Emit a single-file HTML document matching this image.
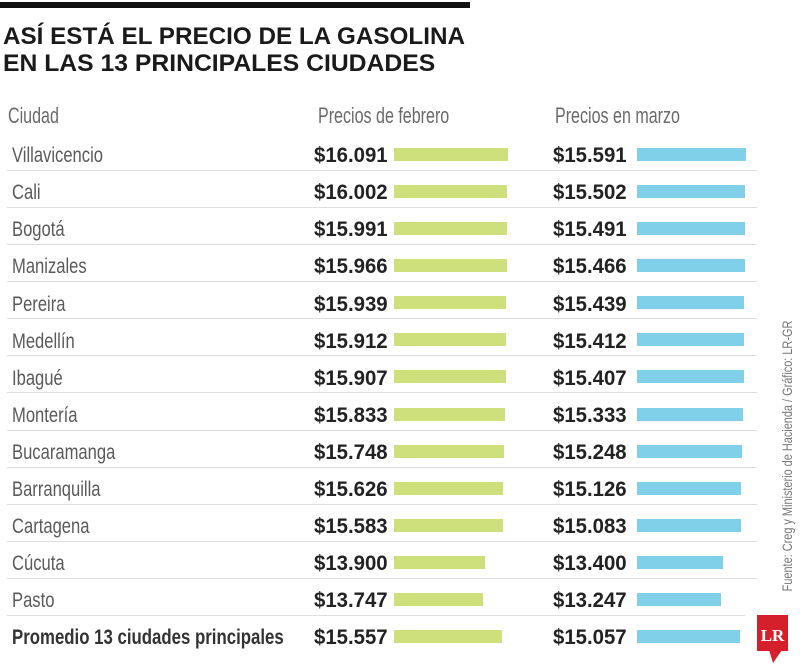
<!DOCTYPE html>
<html>
<head>
<meta charset="utf-8">
<style>
  html,body{margin:0;padding:0;background:#fff;}
  body{width:800px;height:666px;position:relative;overflow:hidden;font-family:"Liberation Sans",sans-serif;}
  .a{position:absolute;white-space:nowrap;line-height:1;transform-origin:0 50%;}
  .title{font-weight:bold;font-size:24px;color:#1a1a1a;}
  .hdr{font-size:22px;color:#6a6a6a;transform:scaleX(0.73);}
  .row{position:absolute;left:0;width:800px;height:30px;}
  .city{position:absolute;left:12px;top:-2.8px;font-size:21px;line-height:1;color:#5a5a5a;white-space:nowrap;transform:scaleX(0.79);transform-origin:0 50%;}
  .city.b{font-weight:bold;color:#333;transform:scaleX(0.80);}
  .p{position:absolute;top:-2.8px;font-size:21px;line-height:1;font-weight:bold;color:#222;white-space:nowrap;transform:scaleX(0.97);transform-origin:0 50%;}
  .p1{left:314px;}
  .p2{left:553px;}
  .g{position:absolute;left:394px;top:0;height:13px;background:#cde07c;}
  .bl{position:absolute;left:637px;top:0;height:13px;background:#80d0ea;}
  .ln{position:absolute;left:7px;top:22px;width:750px;height:1px;background:#dedede;}
</style>
</head>
<body>
<div style="position:absolute;left:0;top:2px;width:470px;height:6px;background:#111;"></div>
<div class="a title" style="left:3px;top:24.7px;transform:scaleX(1.01);">ASÍ ESTÁ EL PRECIO DE LA GASOLINA</div>
<div class="a title" style="left:3px;top:51.7px;transform:scaleX(1.03);">EN LAS 13 PRINCIPALES CIUDADES</div>

<div class="a hdr" style="left:8px;top:105.4px;">Ciudad</div>
<div class="a hdr" style="left:318px;top:105.4px;">Precios de febrero</div>
<div class="a hdr" style="left:555px;top:105.4px;">Precios en marzo</div>

<div class="row" style="top:148px;"><div class="city">Villavicencio</div><div class="p p1">$16.091</div><div class="g" style="width:114px"></div><div class="p p2">$15.591</div><div class="bl" style="width:109px"></div><div class="ln"></div></div>
<div class="row" style="top:185.08px;"><div class="city">Cali</div><div class="p p1">$16.002</div><div class="g" style="width:113px"></div><div class="p p2">$15.502</div><div class="bl" style="width:108px"></div><div class="ln"></div></div>
<div class="row" style="top:222.16px;"><div class="city">Bogotá</div><div class="p p1">$15.991</div><div class="g" style="width:113px"></div><div class="p p2">$15.491</div><div class="bl" style="width:108px"></div><div class="ln"></div></div>
<div class="row" style="top:259.24px;"><div class="city">Manizales</div><div class="p p1">$15.966</div><div class="g" style="width:112.7px"></div><div class="p p2">$15.466</div><div class="bl" style="width:107.7px"></div><div class="ln"></div></div>
<div class="row" style="top:296.32px;"><div class="city">Pereira</div><div class="p p1">$15.939</div><div class="g" style="width:112.4px"></div><div class="p p2">$15.439</div><div class="bl" style="width:107.4px"></div><div class="ln"></div></div>
<div class="row" style="top:333.4px;"><div class="city">Medellín</div><div class="p p1">$15.912</div><div class="g" style="width:112.1px"></div><div class="p p2">$15.412</div><div class="bl" style="width:107.1px"></div><div class="ln"></div></div>
<div class="row" style="top:370.48px;"><div class="city">Ibagué</div><div class="p p1">$15.907</div><div class="g" style="width:112px"></div><div class="p p2">$15.407</div><div class="bl" style="width:107px"></div><div class="ln"></div></div>
<div class="row" style="top:407.56px;"><div class="city">Montería</div><div class="p p1">$15.833</div><div class="g" style="width:111.3px"></div><div class="p p2">$15.333</div><div class="bl" style="width:106.3px"></div><div class="ln"></div></div>
<div class="row" style="top:444.64px;"><div class="city">Bucaramanga</div><div class="p p1">$15.748</div><div class="g" style="width:110.4px"></div><div class="p p2">$15.248</div><div class="bl" style="width:105.4px"></div><div class="ln"></div></div>
<div class="row" style="top:481.72px;"><div class="city">Barranquilla</div><div class="p p1">$15.626</div><div class="g" style="width:109.1px"></div><div class="p p2">$15.126</div><div class="bl" style="width:104.1px"></div><div class="ln"></div></div>
<div class="row" style="top:518.8px;"><div class="city">Cartagena</div><div class="p p1">$15.583</div><div class="g" style="width:108.7px"></div><div class="p p2">$15.083</div><div class="bl" style="width:103.7px"></div><div class="ln"></div></div>
<div class="row" style="top:555.88px;"><div class="city">Cúcuta</div><div class="p p1">$13.900</div><div class="g" style="width:91px"></div><div class="p p2">$13.400</div><div class="bl" style="width:86px"></div><div class="ln"></div></div>
<div class="row" style="top:592.96px;"><div class="city">Pasto</div><div class="p p1">$13.747</div><div class="g" style="width:89.4px"></div><div class="p p2">$13.247</div><div class="bl" style="width:84.4px"></div><div class="ln" style="width:738px"></div></div>
<div class="row" style="top:630.04px;"><div class="city b">Promedio 13 ciudades principales</div><div class="p p1">$15.557</div><div class="g" style="width:108.4px"></div><div class="p p2">$15.057</div><div class="bl" style="width:103.4px"></div></div>

<div style="position:absolute;left:787px;top:456px;white-space:nowrap;font-size:14px;line-height:1;color:#777;transform:translate(-50%,-50%) rotate(-90deg) scaleX(0.78);transform-origin:50% 50%;">Fuente: Creg y Ministerio de Hacienda / Gráfico: LR-GR</div>

<svg style="position:absolute;left:0;top:0;" width="800" height="666" viewBox="0 0 800 666">
  <rect x="757" y="615" width="31" height="36" fill="#d3202a"/>
  <polygon points="769,650 782,650 773,663" fill="#d3202a"/>
  <text x="772.5" y="641" text-anchor="middle" font-family="Liberation Serif, serif" font-weight="bold" font-size="17" fill="#fff">LR</text>
</svg>
</body>
</html>
